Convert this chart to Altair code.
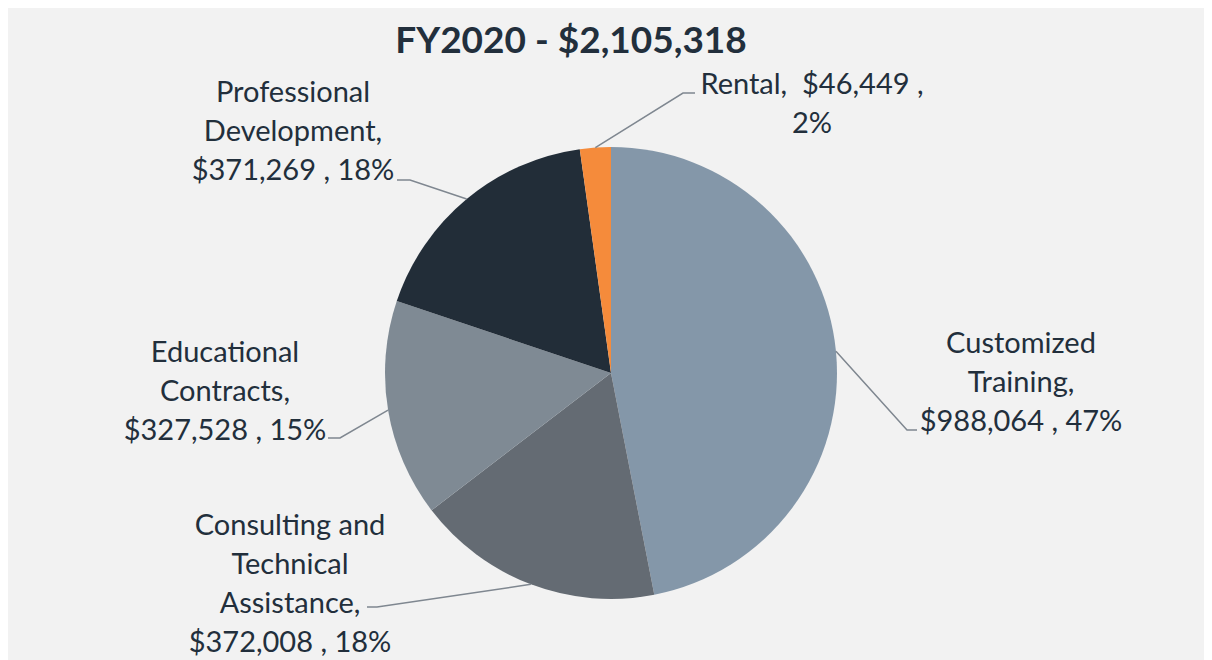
import math
import altair as alt
import pandas as pd

# ---------------- data ----------------
categories = [
    "Customized Training",
    "Consulting and Technical Assistance",
    "Educational Contracts",
    "Professional Development",
    "Rental",
]
amounts = [988064, 372008, 327528, 371269, 46449]
label_lines = [
    ["Customized", "Training,", "$988,064 , 47%"],
    ["Consulting and", "Technical", "Assistance,", "$372,008 , 18%"],
    ["Educational", "Contracts,", "$327,528 , 15%"],
    ["Professional", "Development,", "$371,269 , 18%"],
    ["Rental,\u00a0 $46,449 ,", "2%"],
]
title_text = "FY2020 - $2,105,318"
colors = ["#8497a9", "#646b73", "#7f8a94", "#222d38", "#f58b3b"]

# ---------------- layout (page pixels) ----------------
OFF = 8
W, H = 1196, 652
CX, CY, R = 611, 373, 226
label_pos = [(1021, 353), (290, 535), (225, 362), (293, 102), (812, 94)]
leader_elbow = [(907, 430), (377, 607), (340, 438), (410, 180), (683, 93)]
leader_end = [(917, 430), (367, 607), (328, 438), (397, 180), (695, 93)]
title_pos = (571, 53)

TEXT = "#222f3c"
FONT = "Lato"

total = sum(amounts)
pie_df = pd.DataFrame({"cat": categories, "amt": amounts, "idx": range(len(categories))})

# leader lines: rim point at slice mid-angle, then elbow, then end
rows = []
cum = 0.0
for i, (c, a) in enumerate(zip(categories, amounts)):
    mid = (cum + a / 2) / total * 2 * math.pi
    cum += a
    rx = CX + R * math.sin(mid)
    ry = CY - R * math.cos(mid)
    pts = [(rx, ry), leader_elbow[i], leader_end[i]]
    for k, (px, py) in enumerate(pts):
        rows.append({"cat": c, "k": k, "x": px - OFF, "y": py - OFF})
lead_df = pd.DataFrame(rows)

lab_df = pd.DataFrame({
    "cat": categories,
    "txt": ["\n".join(l) for l in label_lines],
    "x": [p[0] - OFF for p in label_pos],
    "y": [p[1] - OFF for p in label_pos],
})
title_df = pd.DataFrame({"txt": [title_text], "x": [title_pos[0] - OFF], "y": [title_pos[1] - OFF]})

xs = alt.Scale(domain=[0, W], nice=False, zero=False)
ys = alt.Scale(domain=[H, 0], nice=False, zero=False)

arcs = alt.Chart(pie_df).mark_arc(radius=R, stroke=None).encode(
    theta=alt.Theta("amt:Q", stack=True),
    order=alt.Order("idx:Q"),
    color=alt.Color("cat:N", scale=alt.Scale(domain=categories, range=colors), legend=None),
    x=alt.value(CX - OFF),
    y=alt.value(CY - OFF),
)

leaders = alt.Chart(lead_df).mark_line(color="#7f8790", strokeWidth=1.5).encode(
    x=alt.X("x:Q", scale=xs, axis=None),
    y=alt.Y("y:Q", scale=ys, axis=None),
    detail="cat:N",
    order="k:Q",
)

labels = alt.Chart(lab_df).mark_text(
    lineBreak="\n", align="center", baseline="alphabetic",
    fontSize=29, font=FONT, lineHeight=39, color=TEXT,
).encode(
    x=alt.X("x:Q", scale=xs, axis=None),
    y=alt.Y("y:Q", scale=ys, axis=None),
    text="txt:N",
)

title = alt.Chart(title_df).mark_text(
    align="center", baseline="alphabetic", fontSize=37, fontWeight="bold",
    font=FONT, color=TEXT,
).encode(
    x=alt.X("x:Q", scale=xs, axis=None),
    y=alt.Y("y:Q", scale=ys, axis=None),
    text="txt:N",
)

chart = alt.layer(arcs, leaders, labels, title).properties(
    width=W, height=H, padding=0, autosize="none", background="#f2f2f2",
).configure_view(stroke=None)

chart.save("out.html", embed_options={"renderer": "svg", "actions": False})
